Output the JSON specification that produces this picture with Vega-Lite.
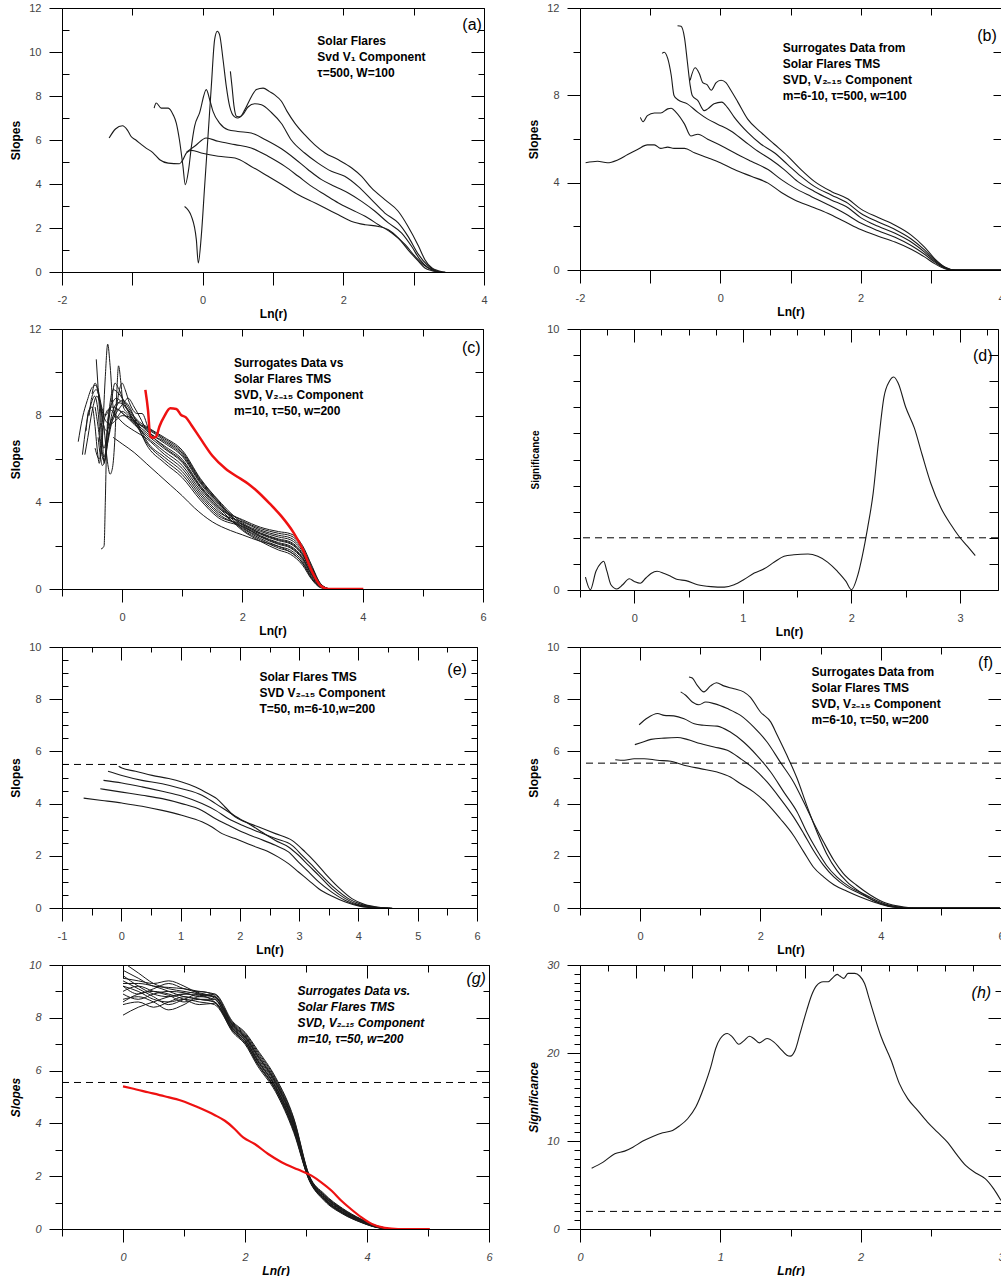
{
"$schema":"https://vega.github.io/schema/vega-lite/v6.json",
"background":"white",
"padding":{"left":9,"top":2,"right":0,"bottom":0},
"bounds":"flush",
"columns":2,
"spacing":{"row":57,"column":91},
"config":{
 "view":{"stroke":null},
 "font":"Liberation Sans",
 "axis":{"grid":false,"domainColor":"#000","domainWidth":1,"tickColor":"#000","tickWidth":1,"labelColor":"#444","labelFont":"Liberation Sans","labelFontSize":11,"labelOverlap":false,"labelFlush":false,"titleFont":"Liberation Sans","titleFontSize":12,"titleFontWeight":"bold","titleColor":"#000"},
 "axisBottom":{"labelPadding":9,"titlePadding":3},
 "axisLeft":{"labelPadding":8,"titlePadding":6},
 "text":{"font":"Liberation Sans","color":"#000"}
},
"datasets":{
"a":[
{"s":1,"x":-1.33,"y":6.09},{"s":1,"x":-1.24,"y":6.5},{"s":1,"x":-1.14,"y":6.65},{"s":1,"x":-1.07,"y":6.45},{"s":1,"x":-1.02,"y":6.17},{"s":1,"x":-0.95,"y":6.0},{"s":1,"x":-0.87,"y":5.79},{"s":1,"x":-0.8,"y":5.62},{"s":1,"x":-0.73,"y":5.48},{"s":1,"x":-0.67,"y":5.3},{"s":1,"x":-0.61,"y":5.1},{"s":1,"x":-0.49,"y":4.95},{"s":1,"x":-0.33,"y":4.92},{"s":1,"x":-0.28,"y":5.11},{"s":1,"x":-0.23,"y":5.41},{"s":1,"x":-0.16,"y":5.53},{"s":1,"x":-0.02,"y":5.41},{"s":1,"x":0.22,"y":5.26},{"s":1,"x":0.46,"y":5.18},{"s":1,"x":0.69,"y":4.8},{"s":1,"x":0.93,"y":4.35},{"s":1,"x":1.17,"y":3.89},{"s":1,"x":1.36,"y":3.51},{"s":1,"x":1.55,"y":3.21},{"s":1,"x":1.74,"y":2.91},{"s":1,"x":1.93,"y":2.6},{"s":1,"x":2.12,"y":2.3},{"s":1,"x":2.31,"y":2.15},{"s":1,"x":2.5,"y":2.07},{"s":1,"x":2.64,"y":1.92},{"s":1,"x":2.78,"y":1.55},{"s":1,"x":2.92,"y":1.01},{"s":1,"x":3.07,"y":0.48},{"s":1,"x":3.16,"y":0.18},{"s":1,"x":3.26,"y":0.06},{"s":1,"x":3.35,"y":0},
{"s":2,"x":-0.23,"y":5.45},{"s":2,"x":-0.1,"y":5.75},{"s":2,"x":0.05,"y":6.09},{"s":2,"x":0.22,"y":5.94},{"s":2,"x":0.46,"y":5.79},{"s":2,"x":0.69,"y":5.64},{"s":2,"x":0.93,"y":5.26},{"s":2,"x":1.17,"y":4.8},{"s":2,"x":1.36,"y":4.35},{"s":2,"x":1.55,"y":3.89},{"s":2,"x":1.74,"y":3.51},{"s":2,"x":1.93,"y":3.14},{"s":2,"x":2.12,"y":2.83},{"s":2,"x":2.31,"y":2.53},{"s":2,"x":2.5,"y":2.15},{"s":2,"x":2.69,"y":1.77},{"s":2,"x":2.88,"y":1.24},{"s":2,"x":3.02,"y":0.71},{"s":2,"x":3.14,"y":0.33},{"s":2,"x":3.26,"y":0.1},{"s":2,"x":3.37,"y":0},
{"s":3,"x":-0.69,"y":7.45},{"s":3,"x":-0.66,"y":7.68},{"s":3,"x":-0.59,"y":7.45},{"s":3,"x":-0.49,"y":7.45},{"s":3,"x":-0.42,"y":7.15},{"s":3,"x":-0.375,"y":6.77},{"s":3,"x":-0.33,"y":6.0},{"s":3,"x":-0.28,"y":4.8},{"s":3,"x":-0.247,"y":3.97},{"s":3,"x":-0.2,"y":4.65},{"s":3,"x":-0.16,"y":5.71},{"s":3,"x":-0.115,"y":6.62},{"s":3,"x":-0.044,"y":7.23},{"s":3,"x":0.052,"y":8.29},{"s":3,"x":0.1,"y":7.83},{"s":3,"x":0.147,"y":7.3},{"s":3,"x":0.24,"y":6.77},{"s":3,"x":0.36,"y":6.47},{"s":3,"x":0.5,"y":6.39},{"s":3,"x":0.69,"y":6.32},{"s":3,"x":0.9,"y":6.0},{"s":3,"x":1.12,"y":5.6},{"s":3,"x":1.31,"y":5.15},{"s":3,"x":1.5,"y":4.65},{"s":3,"x":1.69,"y":4.2},{"s":3,"x":1.88,"y":3.89},{"s":3,"x":2.07,"y":3.59},{"s":3,"x":2.26,"y":3.21},{"s":3,"x":2.45,"y":2.76},{"s":3,"x":2.64,"y":2.23},{"s":3,"x":2.83,"y":1.77},{"s":3,"x":2.97,"y":1.17},{"s":3,"x":3.09,"y":0.56},{"s":3,"x":3.21,"y":0.18},{"s":3,"x":3.33,"y":0.03},{"s":3,"x":3.4,"y":0},
{"s":4,"x":-0.257,"y":2.98},{"s":4,"x":-0.16,"y":2.53},{"s":4,"x":-0.09,"y":1.47},{"s":4,"x":-0.062,"y":0.41},{"s":4,"x":-0.02,"y":1.62},{"s":4,"x":0.028,"y":3.9},{"s":4,"x":0.076,"y":6.17},{"s":4,"x":0.123,"y":8.44},{"s":4,"x":0.17,"y":10.56},{"s":4,"x":0.208,"y":10.94},{"s":4,"x":0.24,"y":10.79},{"s":4,"x":0.29,"y":9.65},{"s":4,"x":0.336,"y":8.44},{"s":4,"x":0.384,"y":7.53},{"s":4,"x":0.455,"y":7.05},{"s":4,"x":0.5,"y":7.0},{"s":4,"x":0.57,"y":7.15},{"s":4,"x":0.645,"y":7.5},{"s":4,"x":0.74,"y":7.65},{"s":4,"x":0.835,"y":7.6},{"s":4,"x":0.977,"y":7.25},{"s":4,"x":1.12,"y":6.75},{"s":4,"x":1.26,"y":6.0},{"s":4,"x":1.45,"y":5.41},{"s":4,"x":1.64,"y":4.95},{"s":4,"x":1.83,"y":4.58},{"s":4,"x":2.02,"y":4.35},{"s":4,"x":2.21,"y":3.89},{"s":4,"x":2.4,"y":3.29},{"s":4,"x":2.59,"y":2.68},{"s":4,"x":2.78,"y":2.23},{"s":4,"x":2.92,"y":1.62},{"s":4,"x":3.07,"y":0.79},{"s":4,"x":3.19,"y":0.33},{"s":4,"x":3.3,"y":0.07},{"s":4,"x":3.4,"y":0},
{"s":5,"x":0.394,"y":9.12},{"s":5,"x":0.417,"y":8.44},{"s":5,"x":0.446,"y":7.53},{"s":5,"x":0.48,"y":7.08},{"s":5,"x":0.53,"y":7.05},{"s":5,"x":0.6,"y":7.38},{"s":5,"x":0.67,"y":7.83},{"s":5,"x":0.764,"y":8.29},{"s":5,"x":0.86,"y":8.36},{"s":5,"x":0.95,"y":8.2},{"s":5,"x":1.02,"y":8.06},{"s":5,"x":1.12,"y":7.76},{"s":5,"x":1.2,"y":7.3},{"s":5,"x":1.31,"y":6.77},{"s":5,"x":1.45,"y":6.24},{"s":5,"x":1.59,"y":5.79},{"s":5,"x":1.74,"y":5.41},{"s":5,"x":1.93,"y":5.1},{"s":5,"x":2.12,"y":4.73},{"s":5,"x":2.26,"y":4.35},{"s":5,"x":2.4,"y":3.82},{"s":5,"x":2.59,"y":3.29},{"s":5,"x":2.78,"y":2.76},{"s":5,"x":2.92,"y":2.07},{"s":5,"x":3.07,"y":1.17},{"s":5,"x":3.16,"y":0.56},{"s":5,"x":3.26,"y":0.18},{"s":5,"x":3.35,"y":0.06},{"s":5,"x":3.45,"y":0}
],
"b":[
{"s":1,"x":-1.92,"y":4.91},{"s":1,"x":-1.75,"y":4.98},{"s":1,"x":-1.61,"y":4.91},{"s":1,"x":-1.47,"y":5.03},{"s":1,"x":-1.32,"y":5.29},{"s":1,"x":-1.18,"y":5.52},{"s":1,"x":-1.04,"y":5.73},{"s":1,"x":-0.94,"y":5.73},{"s":1,"x":-0.85,"y":5.57},{"s":1,"x":-0.75,"y":5.63},{"s":1,"x":-0.66,"y":5.57},{"s":1,"x":-0.51,"y":5.57},{"s":1,"x":-0.37,"y":5.37},{"s":1,"x":-0.18,"y":5.14},{"s":1,"x":0.0,"y":4.91},{"s":1,"x":0.2,"y":4.6},{"s":1,"x":0.44,"y":4.29},{"s":1,"x":0.68,"y":3.98},{"s":1,"x":0.87,"y":3.55},{"s":1,"x":1.06,"y":3.21},{"s":1,"x":1.3,"y":2.9},{"s":1,"x":1.53,"y":2.6},{"s":1,"x":1.77,"y":2.22},{"s":1,"x":2.0,"y":1.85},{"s":1,"x":2.25,"y":1.55},{"s":1,"x":2.49,"y":1.28},{"s":1,"x":2.72,"y":0.95},{"s":1,"x":2.91,"y":0.6},{"s":1,"x":3.06,"y":0.28},{"s":1,"x":3.2,"y":0.06},{"s":1,"x":3.34,"y":0},{"s":1,"x":4.0,"y":0},
{"s":2,"x":-1.14,"y":6.99},{"s":2,"x":-1.1,"y":6.79},{"s":2,"x":-1.04,"y":7.07},{"s":2,"x":-0.94,"y":7.19},{"s":2,"x":-0.85,"y":7.19},{"s":2,"x":-0.75,"y":7.38},{"s":2,"x":-0.7,"y":7.41},{"s":2,"x":-0.63,"y":7.22},{"s":2,"x":-0.51,"y":6.68},{"s":2,"x":-0.42,"y":6.14},{"s":2,"x":-0.32,"y":6.22},{"s":2,"x":-0.18,"y":5.99},{"s":2,"x":0.02,"y":5.68},{"s":2,"x":0.2,"y":5.37},{"s":2,"x":0.44,"y":4.98},{"s":2,"x":0.68,"y":4.6},{"s":2,"x":0.87,"y":4.14},{"s":2,"x":1.06,"y":3.75},{"s":2,"x":1.3,"y":3.36},{"s":2,"x":1.53,"y":3.0},{"s":2,"x":1.77,"y":2.6},{"s":2,"x":2.0,"y":2.15},{"s":2,"x":2.25,"y":1.8},{"s":2,"x":2.49,"y":1.5},{"s":2,"x":2.72,"y":1.12},{"s":2,"x":2.91,"y":0.72},{"s":2,"x":3.06,"y":0.35},{"s":2,"x":3.2,"y":0.08},{"s":2,"x":3.34,"y":0},{"s":2,"x":4.0,"y":0},
{"s":3,"x":-0.83,"y":9.92},{"s":3,"x":-0.8,"y":9.97},{"s":3,"x":-0.75,"y":9.69},{"s":3,"x":-0.7,"y":8.92},{"s":3,"x":-0.66,"y":7.99},{"s":3,"x":-0.61,"y":7.81},{"s":3,"x":-0.47,"y":7.61},{"s":3,"x":-0.32,"y":7.22},{"s":3,"x":-0.18,"y":6.91},{"s":3,"x":-0.04,"y":6.68},{"s":3,"x":0.15,"y":6.37},{"s":3,"x":0.34,"y":5.91},{"s":3,"x":0.53,"y":5.45},{"s":3,"x":0.72,"y":5.06},{"s":3,"x":0.91,"y":4.6},{"s":3,"x":1.1,"y":4.06},{"s":3,"x":1.34,"y":3.6},{"s":3,"x":1.58,"y":3.21},{"s":3,"x":1.82,"y":2.85},{"s":3,"x":2.0,"y":2.4},{"s":3,"x":2.25,"y":2.0},{"s":3,"x":2.49,"y":1.68},{"s":3,"x":2.72,"y":1.28},{"s":3,"x":2.91,"y":0.82},{"s":3,"x":3.06,"y":0.4},{"s":3,"x":3.2,"y":0.1},{"s":3,"x":3.34,"y":0},{"s":3,"x":4.0,"y":0},
{"s":4,"x":-0.61,"y":11.19},{"s":4,"x":-0.56,"y":11.16},{"s":4,"x":-0.51,"y":10.62},{"s":4,"x":-0.47,"y":9.54},{"s":4,"x":-0.43,"y":8.46},{"s":4,"x":-0.4,"y":7.99},{"s":4,"x":-0.32,"y":7.76},{"s":4,"x":-0.23,"y":7.3},{"s":4,"x":-0.18,"y":7.38},{"s":4,"x":-0.09,"y":7.61},{"s":4,"x":0.02,"y":7.69},{"s":4,"x":0.1,"y":7.45},{"s":4,"x":0.2,"y":6.99},{"s":4,"x":0.39,"y":6.3},{"s":4,"x":0.58,"y":5.76},{"s":4,"x":0.77,"y":5.37},{"s":4,"x":0.96,"y":4.83},{"s":4,"x":1.15,"y":4.29},{"s":4,"x":1.34,"y":3.83},{"s":4,"x":1.58,"y":3.44},{"s":4,"x":1.82,"y":3.05},{"s":4,"x":2.0,"y":2.6},{"s":4,"x":2.25,"y":2.2},{"s":4,"x":2.49,"y":1.85},{"s":4,"x":2.72,"y":1.42},{"s":4,"x":2.91,"y":0.92},{"s":4,"x":3.06,"y":0.45},{"s":4,"x":3.2,"y":0.12},{"s":4,"x":3.34,"y":0},{"s":4,"x":4.0,"y":0},
{"s":5,"x":-0.43,"y":8.69},{"s":5,"x":-0.36,"y":9.26},{"s":5,"x":-0.3,"y":9.0},{"s":5,"x":-0.25,"y":8.58},{"s":5,"x":-0.19,"y":8.49},{"s":5,"x":-0.13,"y":8.23},{"s":5,"x":-0.06,"y":8.58},{"s":5,"x":0.01,"y":8.69},{"s":5,"x":0.08,"y":8.58},{"s":5,"x":0.15,"y":8.23},{"s":5,"x":0.25,"y":7.69},{"s":5,"x":0.39,"y":6.91},{"s":5,"x":0.58,"y":6.3},{"s":5,"x":0.77,"y":5.76},{"s":5,"x":0.96,"y":5.22},{"s":5,"x":1.15,"y":4.6},{"s":5,"x":1.34,"y":4.06},{"s":5,"x":1.58,"y":3.6},{"s":5,"x":1.82,"y":3.25},{"s":5,"x":2.0,"y":2.8},{"s":5,"x":2.25,"y":2.4},{"s":5,"x":2.49,"y":2.05},{"s":5,"x":2.72,"y":1.6},{"s":5,"x":2.91,"y":1.05},{"s":5,"x":3.06,"y":0.5},{"s":5,"x":3.2,"y":0.14},{"s":5,"x":3.34,"y":0},{"s":5,"x":4.0,"y":0}
],
"cb":[
{"s":1,"x":-0.73,"y":6.8},{"s":1,"x":-0.66,"y":7.9},{"s":1,"x":-0.58,"y":8.7},{"s":1,"x":-0.5,"y":9.3},{"s":1,"x":-0.44,"y":9.4},{"s":1,"x":-0.38,"y":8.8},{"s":1,"x":-0.32,"y":7.7},{"s":1,"x":-0.26,"y":7.3},{"s":1,"x":-0.18,"y":7.8},{"s":1,"x":-0.08,"y":8.3},{"s":1,"x":0.05,"y":8.0},{"s":1,"x":0.2,"y":7.7},{"s":1,"x":0.4,"y":7.41},{"s":1,"x":0.7,"y":6.87},{"s":1,"x":1.0,"y":6.26},{"s":1,"x":1.3,"y":4.99},{"s":1,"x":1.6,"y":4.01},{"s":1,"x":2.0,"y":2.95},{"s":1,"x":2.3,"y":2.53},{"s":1,"x":2.6,"y":2.23},{"s":1,"x":2.8,"y":2.08},{"s":1,"x":3.0,"y":1.55},{"s":1,"x":3.15,"y":0.78},{"s":1,"x":3.3,"y":0.16},{"s":1,"x":3.45,"y":0},
{"s":2,"x":-0.66,"y":6.2},{"s":2,"x":-0.6,"y":7.5},{"s":2,"x":-0.52,"y":8.5},{"s":2,"x":-0.46,"y":8.9},{"s":2,"x":-0.4,"y":8.2},{"s":2,"x":-0.36,"y":6.8},{"s":2,"x":-0.3,"y":6.1},{"s":2,"x":-0.24,"y":6.9},{"s":2,"x":-0.16,"y":8.2},{"s":2,"x":-0.06,"y":8.6},{"s":2,"x":0.06,"y":8.4},{"s":2,"x":0.2,"y":7.9},{"s":2,"x":0.4,"y":7.32},{"s":2,"x":0.7,"y":6.74},{"s":2,"x":1.0,"y":6.12},{"s":2,"x":1.3,"y":4.88},{"s":2,"x":1.6,"y":3.92},{"s":2,"x":2.0,"y":3.15},{"s":2,"x":2.3,"y":2.79},{"s":2,"x":2.6,"y":2.57},{"s":2,"x":2.8,"y":2.46},{"s":2,"x":3.0,"y":1.91},{"s":2,"x":3.15,"y":1.04},{"s":2,"x":3.3,"y":0.23},{"s":2,"x":3.45,"y":0},
{"s":3,"x":-0.55,"y":8.0},{"s":3,"x":-0.5,"y":8.9},{"s":3,"x":-0.43,"y":9.2},{"s":3,"x":-0.37,"y":8.6},{"s":3,"x":-0.33,"y":7.0},{"s":3,"x":-0.3,"y":5.8},{"s":3,"x":-0.26,"y":6.8},{"s":3,"x":-0.2,"y":8.6},{"s":3,"x":-0.15,"y":9.2},{"s":3,"x":-0.05,"y":9.0},{"s":3,"x":0.05,"y":8.6},{"s":3,"x":0.25,"y":7.8},{"s":3,"x":0.4,"y":7.5},{"s":3,"x":0.7,"y":7.0},{"s":3,"x":1.0,"y":6.4},{"s":3,"x":1.3,"y":5.1},{"s":3,"x":1.6,"y":4.1},{"s":3,"x":2.0,"y":3.05},{"s":3,"x":2.3,"y":2.66},{"s":3,"x":2.6,"y":2.4},{"s":3,"x":2.8,"y":2.27},{"s":3,"x":3.0,"y":1.73},{"s":3,"x":3.15,"y":0.91},{"s":3,"x":3.3,"y":0.19},{"s":3,"x":3.45,"y":0},
{"s":4,"x":-0.45,"y":6.5},{"s":4,"x":-0.38,"y":6.0},{"s":4,"x":-0.32,"y":7.6},{"s":4,"x":-0.28,"y":9.8},{"s":4,"x":-0.24,"y":11.3},{"s":4,"x":-0.2,"y":10.3},{"s":4,"x":-0.15,"y":8.4},{"s":4,"x":-0.1,"y":7.9},{"s":4,"x":0.0,"y":8.2},{"s":4,"x":0.1,"y":8.0},{"s":4,"x":0.25,"y":7.5},{"s":4,"x":0.4,"y":7.14},{"s":4,"x":0.7,"y":6.48},{"s":4,"x":1.0,"y":5.84},{"s":4,"x":1.3,"y":4.66},{"s":4,"x":1.6,"y":3.74},{"s":4,"x":2.0,"y":3.2},{"s":4,"x":2.3,"y":2.85},{"s":4,"x":2.6,"y":2.65},{"s":4,"x":2.8,"y":2.55},{"s":4,"x":3.0,"y":2.0},{"s":4,"x":3.15,"y":1.1},{"s":4,"x":3.3,"y":0.25},{"s":4,"x":3.45,"y":0},
{"s":5,"x":-0.43,"y":10.6},{"s":5,"x":-0.4,"y":9.3},{"s":5,"x":-0.37,"y":8.0},{"s":5,"x":-0.34,"y":6.9},{"s":5,"x":-0.3,"y":6.5},{"s":5,"x":-0.25,"y":7.2},{"s":5,"x":-0.18,"y":8.6},{"s":5,"x":-0.12,"y":9.5},{"s":5,"x":-0.05,"y":9.2},{"s":5,"x":0.05,"y":8.5},{"s":5,"x":0.2,"y":7.8},{"s":5,"x":0.4,"y":7.46},{"s":5,"x":0.7,"y":6.94},{"s":5,"x":1.0,"y":6.33},{"s":5,"x":1.3,"y":5.05},{"s":5,"x":1.6,"y":4.06},{"s":5,"x":2.0,"y":2.85},{"s":5,"x":2.3,"y":2.4},{"s":5,"x":2.6,"y":2.06},{"s":5,"x":2.8,"y":1.89},{"s":5,"x":3.0,"y":1.37},{"s":5,"x":3.15,"y":0.65},{"s":5,"x":3.3,"y":0.12},{"s":5,"x":3.45,"y":0},
{"s":6,"x":-0.35,"y":8.3},{"s":6,"x":-0.3,"y":7.4},{"s":6,"x":-0.25,"y":6.0},{"s":6,"x":-0.2,"y":5.3},{"s":6,"x":-0.16,"y":5.6},{"s":6,"x":-0.12,"y":7.0},{"s":6,"x":-0.09,"y":9.0},{"s":6,"x":-0.06,"y":10.3},{"s":6,"x":-0.02,"y":9.5},{"s":6,"x":0.02,"y":8.4},{"s":6,"x":0.1,"y":8.1},{"s":6,"x":0.25,"y":7.6},{"s":6,"x":0.4,"y":7.23},{"s":6,"x":0.7,"y":6.61},{"s":6,"x":1.0,"y":5.98},{"s":6,"x":1.3,"y":4.77},{"s":6,"x":1.6,"y":3.83},{"s":6,"x":2.0,"y":3.0},{"s":6,"x":2.3,"y":2.59},{"s":6,"x":2.6,"y":2.31},{"s":6,"x":2.8,"y":2.17},{"s":6,"x":3.0,"y":1.64},{"s":6,"x":3.15,"y":0.84},{"s":6,"x":3.3,"y":0.17},{"s":6,"x":3.45,"y":0},
{"s":7,"x":-0.35,"y":1.85},{"s":7,"x":-0.32,"y":1.9},{"s":7,"x":-0.3,"y":2.0},{"s":7,"x":-0.28,"y":4.0},{"s":7,"x":-0.26,"y":6.5},{"s":7,"x":-0.24,"y":7.8},{"s":7,"x":-0.18,"y":8.4},{"s":7,"x":-0.08,"y":8.3},{"s":7,"x":0.05,"y":8.0},{"s":7,"x":0.2,"y":7.6},{"s":7,"x":0.4,"y":7.05},{"s":7,"x":0.7,"y":6.35},{"s":7,"x":1.0,"y":5.7},{"s":7,"x":1.3,"y":4.55},{"s":7,"x":1.6,"y":3.65},{"s":7,"x":2.0,"y":2.8},{"s":7,"x":2.3,"y":2.33},{"s":7,"x":2.6,"y":1.97},{"s":7,"x":2.8,"y":1.79},{"s":7,"x":3.0,"y":1.28},{"s":7,"x":3.15,"y":0.58},{"s":7,"x":3.3,"y":0.1},{"s":7,"x":3.45,"y":0},
{"s":8,"x":-0.6,"y":7.3},{"s":8,"x":-0.56,"y":8.2},{"s":8,"x":-0.5,"y":8.4},{"s":8,"x":-0.45,"y":7.5},{"s":8,"x":-0.42,"y":6.6},{"s":8,"x":-0.38,"y":5.8},{"s":8,"x":-0.35,"y":6.3},{"s":8,"x":-0.3,"y":7.8},{"s":8,"x":-0.22,"y":8.3},{"s":8,"x":-0.1,"y":8.0},{"s":8,"x":0.0,"y":7.7},{"s":8,"x":0.2,"y":7.3},{"s":8,"x":0.4,"y":6.96},{"s":8,"x":0.7,"y":6.22},{"s":8,"x":1.0,"y":5.56},{"s":8,"x":1.3,"y":4.44},{"s":8,"x":1.6,"y":3.56},{"s":8,"x":2.0,"y":3.1},{"s":8,"x":2.3,"y":2.72},{"s":8,"x":2.6,"y":2.48},{"s":8,"x":2.8,"y":2.36},{"s":8,"x":3.0,"y":1.82},{"s":8,"x":3.15,"y":0.97},{"s":8,"x":3.3,"y":0.21},{"s":8,"x":3.45,"y":0},
{"s":9,"x":-0.62,"y":6.2},{"s":9,"x":-0.57,"y":7.0},{"s":9,"x":-0.5,"y":8.2},{"s":9,"x":-0.42,"y":8.9},{"s":9,"x":-0.36,"y":8.5},{"s":9,"x":-0.3,"y":7.9},{"s":9,"x":-0.2,"y":7.6},{"s":9,"x":-0.1,"y":7.8},{"s":9,"x":0.0,"y":8.0},{"s":9,"x":0.15,"y":7.9},{"s":9,"x":0.3,"y":7.4},{"s":9,"x":0.4,"y":6.87},{"s":9,"x":0.7,"y":6.09},{"s":9,"x":1.0,"y":5.42},{"s":9,"x":1.3,"y":4.33},{"s":9,"x":1.6,"y":3.47},{"s":9,"x":2.0,"y":2.9},{"s":9,"x":2.3,"y":2.46},{"s":9,"x":2.6,"y":2.14},{"s":9,"x":2.8,"y":1.98},{"s":9,"x":3.0,"y":1.46},{"s":9,"x":3.15,"y":0.71},{"s":9,"x":3.3,"y":0.14},{"s":9,"x":3.45,"y":0},
{"s":10,"x":-0.4,"y":7.0},{"s":10,"x":-0.36,"y":6.1},{"s":10,"x":-0.33,"y":5.7},{"s":10,"x":-0.28,"y":6.0},{"s":10,"x":-0.22,"y":7.2},{"s":10,"x":-0.12,"y":8.0},{"s":10,"x":0.0,"y":8.5},{"s":10,"x":0.1,"y":8.8},{"s":10,"x":0.2,"y":8.4},{"s":10,"x":0.3,"y":7.9},{"s":10,"x":0.4,"y":7.37},{"s":10,"x":0.7,"y":6.81},{"s":10,"x":1.0,"y":6.19},{"s":10,"x":1.3,"y":4.94},{"s":10,"x":1.6,"y":3.97},{"s":10,"x":2.0,"y":2.75},{"s":10,"x":2.3,"y":2.27},{"s":10,"x":2.6,"y":1.89},{"s":10,"x":2.8,"y":1.7},{"s":10,"x":3.0,"y":1.19},{"s":10,"x":3.15,"y":0.52},{"s":10,"x":3.3,"y":0.08},{"s":10,"x":3.45,"y":0},
{"s":11,"x":-0.15,"y":7.0},{"s":11,"x":-0.05,"y":6.8},{"s":11,"x":0.0,"y":6.7},{"s":11,"x":0.2,"y":6.3},{"s":11,"x":0.4,"y":5.8},{"s":11,"x":0.6,"y":5.3},{"s":11,"x":0.8,"y":4.8},{"s":11,"x":1.0,"y":4.3},{"s":11,"x":1.2,"y":3.75},{"s":11,"x":1.5,"y":3.1},{"s":11,"x":1.8,"y":2.7},{"s":11,"x":2.0,"y":2.5},{"s":11,"x":2.3,"y":2.2},{"s":11,"x":2.5,"y":2.05},{"s":11,"x":2.7,"y":1.85},{"s":11,"x":2.9,"y":1.5},{"s":11,"x":3.0,"y":1.2},{"s":11,"x":3.15,"y":0.5},{"s":11,"x":3.3,"y":0.08},{"s":11,"x":3.42,"y":0},
{"s":12,"x":-0.5,"y":9.0},{"s":12,"x":-0.45,"y":9.5},{"s":12,"x":-0.4,"y":9.2},{"s":12,"x":-0.34,"y":8.4},{"s":12,"x":-0.28,"y":8.0},{"s":12,"x":-0.2,"y":8.4},{"s":12,"x":-0.1,"y":8.8},{"s":12,"x":0.0,"y":8.6},{"s":12,"x":0.1,"y":8.2},{"s":12,"x":0.25,"y":7.5},{"s":12,"x":0.4,"y":6.78},{"s":12,"x":0.7,"y":5.96},{"s":12,"x":1.0,"y":5.28},{"s":12,"x":1.3,"y":4.22},{"s":12,"x":1.6,"y":3.38},{"s":12,"x":2.0,"y":2.98},{"s":12,"x":2.3,"y":2.56},{"s":12,"x":2.6,"y":2.27},{"s":12,"x":2.8,"y":2.12},{"s":12,"x":3.0,"y":1.6},{"s":12,"x":3.15,"y":0.81},{"s":12,"x":3.3,"y":0.16},{"s":12,"x":3.45,"y":0},
{"s":13,"x":-0.1,"y":8.3},{"s":13,"x":0.0,"y":9.5},{"s":13,"x":0.05,"y":9.2},{"s":13,"x":0.12,"y":8.6},{"s":13,"x":0.25,"y":8.1},{"s":13,"x":0.33,"y":8.1},{"s":13,"x":0.45,"y":7.3},{"s":13,"x":0.7,"y":6.55},{"s":13,"x":1.0,"y":5.91},{"s":13,"x":1.3,"y":4.72},{"s":13,"x":1.6,"y":3.79},{"s":13,"x":2.0,"y":2.7},{"s":13,"x":2.3,"y":2.2},{"s":13,"x":2.6,"y":1.8},{"s":13,"x":2.8,"y":1.6},{"s":13,"x":3.0,"y":1.1},{"s":13,"x":3.15,"y":0.45},{"s":13,"x":3.3,"y":0.06},{"s":13,"x":3.45,"y":0},
{"s":14,"x":-0.45,"y":8.4},{"s":14,"x":-0.4,"y":7.5},{"s":14,"x":-0.35,"y":6.4},{"s":14,"x":-0.3,"y":5.9},{"s":14,"x":-0.25,"y":6.6},{"s":14,"x":-0.18,"y":7.6},{"s":14,"x":-0.1,"y":8.4},{"s":14,"x":0.0,"y":8.7},{"s":14,"x":0.1,"y":8.5},{"s":14,"x":0.25,"y":7.6},{"s":14,"x":0.4,"y":6.69},{"s":14,"x":0.7,"y":5.83},{"s":14,"x":1.0,"y":5.14},{"s":14,"x":1.3,"y":4.11},{"s":14,"x":1.6,"y":3.29},{"s":14,"x":2.0,"y":2.88},{"s":14,"x":2.3,"y":2.43},{"s":14,"x":2.6,"y":2.1},{"s":14,"x":2.8,"y":1.93},{"s":14,"x":3.0,"y":1.42},{"s":14,"x":3.15,"y":0.68},{"s":14,"x":3.3,"y":0.13},{"s":14,"x":3.45,"y":0}
],
"cr":[
{"x":0.386,"y":9.19},{"x":0.43,"y":8.26},{"x":0.468,"y":7.04},{"x":0.51,"y":6.98},{"x":0.567,"y":7.04},{"x":0.62,"y":7.5},{"x":0.705,"y":7.99},{"x":0.8,"y":8.34},{"x":0.9,"y":8.31},{"x":0.98,"y":8.03},{"x":1.06,"y":7.92},{"x":1.15,"y":7.57},{"x":1.3,"y":6.95},{"x":1.5,"y":6.15},{"x":1.72,"y":5.55},{"x":1.95,"y":5.12},{"x":2.1,"y":4.85},{"x":2.25,"y":4.5},{"x":2.45,"y":3.95},{"x":2.65,"y":3.35},{"x":2.85,"y":2.6},{"x":3.0,"y":1.85},{"x":3.15,"y":0.85},{"x":3.3,"y":0.15},{"x":3.43,"y":0},{"x":4.01,"y":0}
],
"d":[
{"x":-0.45,"y":0.49},{"x":-0.405,"y":0.01},{"x":-0.353,"y":0.72},{"x":-0.307,"y":1.03},{"x":-0.282,"y":1.1},{"x":-0.252,"y":0.72},{"x":-0.215,"y":0.2},{"x":-0.16,"y":0.04},{"x":-0.107,"y":0.2},{"x":-0.046,"y":0.43},{"x":0,"y":0.33},{"x":0.055,"y":0.26},{"x":0.107,"y":0.46},{"x":0.154,"y":0.63},{"x":0.21,"y":0.72},{"x":0.276,"y":0.63},{"x":0.338,"y":0.52},{"x":0.4,"y":0.4},{"x":0.476,"y":0.36},{"x":0.583,"y":0.2},{"x":0.706,"y":0.13},{"x":0.83,"y":0.11},{"x":0.92,"y":0.2},{"x":1.01,"y":0.4},{"x":1.105,"y":0.65},{"x":1.2,"y":0.82},{"x":1.29,"y":1.07},{"x":1.38,"y":1.29},{"x":1.47,"y":1.35},{"x":1.6,"y":1.38},{"x":1.69,"y":1.29},{"x":1.78,"y":1.07},{"x":1.87,"y":0.72},{"x":1.95,"y":0.33},{"x":2.0,"y":0.01},{"x":2.06,"y":0.59},{"x":2.1,"y":1.3},{"x":2.15,"y":2.4},{"x":2.2,"y":3.7},{"x":2.25,"y":5.7},{"x":2.3,"y":7.4},{"x":2.35,"y":8.0},{"x":2.39,"y":8.16},{"x":2.43,"y":7.93},{"x":2.5,"y":7.0},{"x":2.58,"y":6.2},{"x":2.65,"y":5.2},{"x":2.73,"y":4.1},{"x":2.825,"y":3.14},{"x":2.917,"y":2.5},{"x":2.99,"y":2.06},{"x":3.07,"y":1.67},{"x":3.14,"y":1.32}
],
"e":[
{"s":1,"x":-0.635,"y":4.21},{"s":1,"x":-0.325,"y":4.12},{"s":1,"x":0.01,"y":4.02},{"s":1,"x":0.35,"y":3.9},{"s":1,"x":0.69,"y":3.74},{"s":1,"x":1.02,"y":3.55},{"s":1,"x":1.36,"y":3.3},{"s":1,"x":1.53,"y":3.1},{"s":1,"x":1.7,"y":2.85},{"s":1,"x":1.92,"y":2.66},{"s":1,"x":2.2,"y":2.4},{"s":1,"x":2.49,"y":2.15},{"s":1,"x":2.65,"y":1.95},{"s":1,"x":2.82,"y":1.7},{"s":1,"x":2.99,"y":1.38},{"s":1,"x":3.16,"y":1.06},{"s":1,"x":3.33,"y":0.74},{"s":1,"x":3.55,"y":0.46},{"s":1,"x":3.78,"y":0.23},{"s":1,"x":4.0,"y":0.08},{"s":1,"x":4.23,"y":0.01},{"s":1,"x":4.4,"y":0},
{"s":2,"x":-0.354,"y":4.57},{"s":2,"x":0.01,"y":4.44},{"s":2,"x":0.35,"y":4.32},{"s":2,"x":0.69,"y":4.19},{"s":2,"x":1.02,"y":4.0},{"s":2,"x":1.36,"y":3.74},{"s":2,"x":1.59,"y":3.42},{"s":2,"x":1.81,"y":3.17},{"s":2,"x":2.04,"y":2.91},{"s":2,"x":2.32,"y":2.66},{"s":2,"x":2.6,"y":2.4},{"s":2,"x":2.82,"y":2.15},{"s":2,"x":2.99,"y":1.76},{"s":2,"x":3.16,"y":1.38},{"s":2,"x":3.33,"y":1.0},{"s":2,"x":3.55,"y":0.61},{"s":2,"x":3.78,"y":0.29},{"s":2,"x":4.0,"y":0.1},{"s":2,"x":4.23,"y":0.03},{"s":2,"x":4.45,"y":0},
{"s":3,"x":-0.3,"y":4.89},{"s":3,"x":0.01,"y":4.79},{"s":3,"x":0.35,"y":4.64},{"s":3,"x":0.69,"y":4.47},{"s":3,"x":1.02,"y":4.29},{"s":3,"x":1.36,"y":4.0},{"s":3,"x":1.59,"y":3.74},{"s":3,"x":1.81,"y":3.42},{"s":3,"x":2.04,"y":3.17},{"s":3,"x":2.32,"y":2.91},{"s":3,"x":2.6,"y":2.66},{"s":3,"x":2.88,"y":2.4},{"s":3,"x":3.05,"y":2.02},{"s":3,"x":3.22,"y":1.63},{"s":3,"x":3.38,"y":1.25},{"s":3,"x":3.61,"y":0.74},{"s":3,"x":3.83,"y":0.36},{"s":3,"x":4.06,"y":0.13},{"s":3,"x":4.28,"y":0.03},{"s":3,"x":4.5,"y":0},
{"s":4,"x":-0.224,"y":5.24},{"s":4,"x":0.01,"y":5.08},{"s":4,"x":0.35,"y":4.89},{"s":4,"x":0.69,"y":4.76},{"s":4,"x":1.02,"y":4.57},{"s":4,"x":1.36,"y":4.32},{"s":4,"x":1.59,"y":4.0},{"s":4,"x":1.81,"y":3.68},{"s":4,"x":2.04,"y":3.36},{"s":4,"x":2.32,"y":3.1},{"s":4,"x":2.6,"y":2.85},{"s":4,"x":2.88,"y":2.59},{"s":4,"x":3.1,"y":2.15},{"s":4,"x":3.27,"y":1.76},{"s":4,"x":3.44,"y":1.32},{"s":4,"x":3.66,"y":0.8},{"s":4,"x":3.89,"y":0.36},{"s":4,"x":4.11,"y":0.13},{"s":4,"x":4.34,"y":0.03},{"s":4,"x":4.54,"y":0},
{"s":5,"x":-0.044,"y":5.43},{"s":5,"x":0.01,"y":5.36},{"s":5,"x":0.24,"y":5.24},{"s":5,"x":0.52,"y":5.08},{"s":5,"x":0.8,"y":4.96},{"s":5,"x":1.02,"y":4.83},{"s":5,"x":1.25,"y":4.64},{"s":5,"x":1.47,"y":4.38},{"s":5,"x":1.61,"y":4.19},{"s":5,"x":1.75,"y":3.87},{"s":5,"x":1.92,"y":3.49},{"s":5,"x":2.15,"y":3.23},{"s":5,"x":2.37,"y":2.91},{"s":5,"x":2.6,"y":2.59},{"s":5,"x":2.82,"y":2.34},{"s":5,"x":2.99,"y":2.02},{"s":5,"x":3.16,"y":1.63},{"s":5,"x":3.33,"y":1.25},{"s":5,"x":3.55,"y":0.74},{"s":5,"x":3.78,"y":0.36},{"s":5,"x":4.0,"y":0.13},{"s":5,"x":4.23,"y":0.04},{"s":5,"x":4.57,"y":0}
],
"f":[
{"s":1,"x":-0.414,"y":5.68},{"s":1,"x":-0.265,"y":5.66},{"s":1,"x":-0.1,"y":5.72},{"s":1,"x":0.066,"y":5.72},{"s":1,"x":0.287,"y":5.66},{"s":1,"x":0.51,"y":5.62},{"s":1,"x":0.73,"y":5.47},{"s":1,"x":1.0,"y":5.34},{"s":1,"x":1.28,"y":5.21},{"s":1,"x":1.5,"y":5.02},{"s":1,"x":1.67,"y":4.76},{"s":1,"x":1.89,"y":4.44},{"s":1,"x":2.11,"y":4.0},{"s":1,"x":2.33,"y":3.42},{"s":1,"x":2.55,"y":2.78},{"s":1,"x":2.72,"y":2.15},{"s":1,"x":2.88,"y":1.57},{"s":1,"x":3.05,"y":1.19},{"s":1,"x":3.22,"y":0.89},{"s":1,"x":3.44,"y":0.64},{"s":1,"x":3.66,"y":0.42},{"s":1,"x":3.88,"y":0.23},{"s":1,"x":4.1,"y":0.08},{"s":1,"x":4.32,"y":0.01},{"s":1,"x":4.54,"y":0},{"s":1,"x":5.98,"y":0},
{"s":2,"x":-0.088,"y":6.26},{"s":2,"x":0.01,"y":6.33},{"s":2,"x":0.18,"y":6.46},{"s":2,"x":0.4,"y":6.51},{"s":2,"x":0.62,"y":6.53},{"s":2,"x":0.78,"y":6.46},{"s":2,"x":1.0,"y":6.3},{"s":2,"x":1.23,"y":6.17},{"s":2,"x":1.45,"y":6.04},{"s":2,"x":1.67,"y":5.72},{"s":2,"x":1.89,"y":5.34},{"s":2,"x":2.11,"y":4.83},{"s":2,"x":2.33,"y":4.19},{"s":2,"x":2.55,"y":3.49},{"s":2,"x":2.72,"y":2.85},{"s":2,"x":2.88,"y":2.21},{"s":2,"x":3.05,"y":1.63},{"s":2,"x":3.22,"y":1.19},{"s":2,"x":3.44,"y":0.8},{"s":2,"x":3.66,"y":0.55},{"s":2,"x":3.88,"y":0.29},{"s":2,"x":4.1,"y":0.1},{"s":2,"x":4.32,"y":0.03},{"s":2,"x":4.54,"y":0},{"s":2,"x":5.98,"y":0},
{"s":3,"x":-0.017,"y":7.02},{"s":3,"x":0.12,"y":7.28},{"s":3,"x":0.29,"y":7.45},{"s":3,"x":0.4,"y":7.38},{"s":3,"x":0.56,"y":7.36},{"s":3,"x":0.73,"y":7.25},{"s":3,"x":0.9,"y":7.06},{"s":3,"x":1.06,"y":7.0},{"s":3,"x":1.28,"y":6.97},{"s":3,"x":1.5,"y":6.74},{"s":3,"x":1.72,"y":6.36},{"s":3,"x":1.94,"y":5.85},{"s":3,"x":2.17,"y":5.21},{"s":3,"x":2.39,"y":4.44},{"s":3,"x":2.61,"y":3.68},{"s":3,"x":2.77,"y":2.91},{"s":3,"x":2.94,"y":2.21},{"s":3,"x":3.1,"y":1.63},{"s":3,"x":3.27,"y":1.19},{"s":3,"x":3.49,"y":0.8},{"s":3,"x":3.71,"y":0.55},{"s":3,"x":3.93,"y":0.29},{"s":3,"x":4.15,"y":0.1},{"s":3,"x":4.38,"y":0.01},{"s":3,"x":4.6,"y":0},{"s":3,"x":5.98,"y":0},
{"s":4,"x":0.674,"y":8.28},{"s":4,"x":0.757,"y":8.15},{"s":4,"x":0.867,"y":7.89},{"s":4,"x":0.978,"y":7.79},{"s":4,"x":1.09,"y":7.89},{"s":4,"x":1.23,"y":7.83},{"s":4,"x":1.45,"y":7.64},{"s":4,"x":1.67,"y":7.38},{"s":4,"x":1.89,"y":6.93},{"s":4,"x":2.11,"y":6.36},{"s":4,"x":2.33,"y":5.59},{"s":4,"x":2.55,"y":4.83},{"s":4,"x":2.72,"y":4.06},{"s":4,"x":2.88,"y":3.29},{"s":4,"x":3.05,"y":2.53},{"s":4,"x":3.22,"y":1.83},{"s":4,"x":3.38,"y":1.32},{"s":4,"x":3.6,"y":0.87},{"s":4,"x":3.82,"y":0.51},{"s":4,"x":4.04,"y":0.23},{"s":4,"x":4.27,"y":0.08},{"s":4,"x":4.49,"y":0.01},{"s":4,"x":4.7,"y":0},{"s":4,"x":5.98,"y":0},
{"s":5,"x":0.812,"y":8.85},{"s":5,"x":0.867,"y":8.81},{"s":5,"x":0.95,"y":8.53},{"s":5,"x":1.06,"y":8.28},{"s":5,"x":1.17,"y":8.51},{"s":5,"x":1.27,"y":8.63},{"s":5,"x":1.39,"y":8.51},{"s":5,"x":1.56,"y":8.4},{"s":5,"x":1.72,"y":8.28},{"s":5,"x":1.83,"y":8.08},{"s":5,"x":2.0,"y":7.51},{"s":5,"x":2.17,"y":7.13},{"s":5,"x":2.28,"y":6.62},{"s":5,"x":2.44,"y":5.85},{"s":5,"x":2.61,"y":4.96},{"s":5,"x":2.77,"y":3.93},{"s":5,"x":2.94,"y":2.91},{"s":5,"x":3.1,"y":2.08},{"s":5,"x":3.27,"y":1.44},{"s":5,"x":3.44,"y":1.0},{"s":5,"x":3.66,"y":0.61},{"s":5,"x":3.88,"y":0.29},{"s":5,"x":4.1,"y":0.1},{"s":5,"x":4.32,"y":0.03},{"s":5,"x":4.54,"y":0},{"s":5,"x":5.98,"y":0}
],
"gb":[
{"s":1,"x":0,"y":10.1},{"s":1,"x":0.25,"y":9.7},{"s":1,"x":0.5,"y":9.3},{"s":1,"x":0.75,"y":9.1},{"s":1,"x":1.0,"y":9.0},{"s":1,"x":1.25,"y":8.9},{"s":1,"x":1.5,"y":8.8},{"s":1,"x":1.8,"y":7.73},{"s":1,"x":2.0,"y":7.32},{"s":1,"x":2.2,"y":6.62},{"s":1,"x":2.5,"y":5.59},{"s":1,"x":2.8,"y":4.04},{"s":1,"x":3.05,"y":1.99},{"s":1,"x":3.3,"y":1.25},{"s":1,"x":3.6,"y":0.72},{"s":1,"x":3.9,"y":0.34},{"s":1,"x":4.15,"y":0.11},{"s":1,"x":4.4,"y":0},
{"s":2,"x":0,"y":9.8},{"s":2,"x":0.25,"y":9.5},{"s":2,"x":0.5,"y":9.2},{"s":2,"x":0.75,"y":9.15},{"s":2,"x":1.0,"y":9.1},{"s":2,"x":1.25,"y":9.0},{"s":2,"x":1.5,"y":8.9},{"s":2,"x":1.8,"y":7.81},{"s":2,"x":2.0,"y":7.41},{"s":2,"x":2.2,"y":6.74},{"s":2,"x":2.5,"y":5.7},{"s":2,"x":2.8,"y":4.15},{"s":2,"x":3.05,"y":2.03},{"s":2,"x":3.3,"y":1.3},{"s":2,"x":3.6,"y":0.76},{"s":2,"x":3.9,"y":0.37},{"s":2,"x":4.15,"y":0.12},{"s":2,"x":4.4,"y":0},
{"s":3,"x":0,"y":9.6},{"s":3,"x":0.25,"y":9.2},{"s":3,"x":0.5,"y":8.9},{"s":3,"x":0.75,"y":8.8},{"s":3,"x":1.0,"y":8.9},{"s":3,"x":1.25,"y":9.0},{"s":3,"x":1.5,"y":8.85},{"s":3,"x":1.8,"y":7.77},{"s":3,"x":2.0,"y":7.36},{"s":3,"x":2.2,"y":6.68},{"s":3,"x":2.5,"y":5.64},{"s":3,"x":2.8,"y":4.09},{"s":3,"x":3.05,"y":2.01},{"s":3,"x":3.3,"y":1.28},{"s":3,"x":3.6,"y":0.74},{"s":3,"x":3.9,"y":0.35},{"s":3,"x":4.15,"y":0.12},{"s":3,"x":4.4,"y":0},
{"s":4,"x":0,"y":9.5},{"s":4,"x":0.25,"y":9.4},{"s":4,"x":0.5,"y":9.3},{"s":4,"x":0.75,"y":9.4},{"s":4,"x":1.0,"y":9.2},{"s":4,"x":1.25,"y":8.9},{"s":4,"x":1.5,"y":8.6},{"s":4,"x":1.8,"y":7.61},{"s":4,"x":2.0,"y":7.18},{"s":4,"x":2.2,"y":6.44},{"s":4,"x":2.5,"y":5.42},{"s":4,"x":2.8,"y":3.87},{"s":4,"x":3.05,"y":1.93},{"s":4,"x":3.3,"y":1.17},{"s":4,"x":3.6,"y":0.65},{"s":4,"x":3.9,"y":0.3},{"s":4,"x":4.15,"y":0.09},{"s":4,"x":4.4,"y":0},
{"s":5,"x":0,"y":9.4},{"s":5,"x":0.25,"y":9.1},{"s":5,"x":0.5,"y":8.8},{"s":5,"x":0.75,"y":8.5},{"s":5,"x":1.0,"y":8.7},{"s":5,"x":1.25,"y":8.9},{"s":5,"x":1.5,"y":8.8},{"s":5,"x":1.8,"y":7.69},{"s":5,"x":2.0,"y":7.27},{"s":5,"x":2.2,"y":6.56},{"s":5,"x":2.5,"y":5.53},{"s":5,"x":2.8,"y":3.98},{"s":5,"x":3.05,"y":1.97},{"s":5,"x":3.3,"y":1.23},{"s":5,"x":3.6,"y":0.7},{"s":5,"x":3.9,"y":0.33},{"s":5,"x":4.15,"y":0.1},{"s":5,"x":4.4,"y":0},
{"s":6,"x":0,"y":9.3},{"s":6,"x":0.25,"y":9.3},{"s":6,"x":0.5,"y":9.2},{"s":6,"x":0.75,"y":9.0},{"s":6,"x":1.0,"y":8.8},{"s":6,"x":1.25,"y":8.7},{"s":6,"x":1.5,"y":8.6},{"s":6,"x":1.8,"y":7.57},{"s":6,"x":2.0,"y":7.14},{"s":6,"x":2.2,"y":6.38},{"s":6,"x":2.5,"y":5.37},{"s":6,"x":2.8,"y":3.82},{"s":6,"x":3.05,"y":1.91},{"s":6,"x":3.3,"y":1.15},{"s":6,"x":3.6,"y":0.63},{"s":6,"x":3.9,"y":0.29},{"s":6,"x":4.15,"y":0.08},{"s":6,"x":4.4,"y":0},
{"s":7,"x":0,"y":9.2},{"s":7,"x":0.25,"y":9.0},{"s":7,"x":0.5,"y":8.7},{"s":7,"x":0.75,"y":8.6},{"s":7,"x":1.0,"y":8.7},{"s":7,"x":1.25,"y":8.6},{"s":7,"x":1.5,"y":8.5},{"s":7,"x":1.8,"y":7.49},{"s":7,"x":2.0,"y":7.05},{"s":7,"x":2.2,"y":6.26},{"s":7,"x":2.5,"y":5.26},{"s":7,"x":2.8,"y":3.71},{"s":7,"x":3.05,"y":1.87},{"s":7,"x":3.3,"y":1.1},{"s":7,"x":3.6,"y":0.59},{"s":7,"x":3.9,"y":0.26},{"s":7,"x":4.15,"y":0.07},{"s":7,"x":4.4,"y":0},
{"s":8,"x":0,"y":9.2},{"s":8,"x":0.25,"y":8.9},{"s":8,"x":0.5,"y":9.1},{"s":8,"x":0.75,"y":9.3},{"s":8,"x":1.0,"y":9.1},{"s":8,"x":1.25,"y":8.95},{"s":8,"x":1.5,"y":8.75},{"s":8,"x":1.8,"y":7.65},{"s":8,"x":2.0,"y":7.23},{"s":8,"x":2.2,"y":6.5},{"s":8,"x":2.5,"y":5.48},{"s":8,"x":2.8,"y":3.93},{"s":8,"x":3.05,"y":1.95},{"s":8,"x":3.3,"y":1.2},{"s":8,"x":3.6,"y":0.68},{"s":8,"x":3.9,"y":0.32},{"s":8,"x":4.15,"y":0.1},{"s":8,"x":4.4,"y":0},
{"s":9,"x":0,"y":9.0},{"s":9,"x":0.25,"y":9.2},{"s":9,"x":0.5,"y":9.0},{"s":9,"x":0.75,"y":8.85},{"s":9,"x":1.0,"y":8.6},{"s":9,"x":1.25,"y":8.7},{"s":9,"x":1.5,"y":8.7},{"s":9,"x":1.8,"y":7.59},{"s":9,"x":2.0,"y":7.16},{"s":9,"x":2.2,"y":6.41},{"s":9,"x":2.5,"y":5.39},{"s":9,"x":2.8,"y":3.84},{"s":9,"x":3.05,"y":1.92},{"s":9,"x":3.3,"y":1.16},{"s":9,"x":3.6,"y":0.64},{"s":9,"x":3.9,"y":0.3},{"s":9,"x":4.15,"y":0.08},{"s":9,"x":4.4,"y":0},
{"s":10,"x":0,"y":8.9},{"s":10,"x":0.25,"y":8.7},{"s":10,"x":0.5,"y":8.9},{"s":10,"x":0.75,"y":9.0},{"s":10,"x":1.0,"y":8.95},{"s":10,"x":1.25,"y":8.8},{"s":10,"x":1.5,"y":8.9},{"s":10,"x":1.8,"y":7.85},{"s":10,"x":2.0,"y":7.45},{"s":10,"x":2.2,"y":6.8},{"s":10,"x":2.5,"y":5.75},{"s":10,"x":2.8,"y":4.2},{"s":10,"x":3.05,"y":2.05},{"s":10,"x":3.3,"y":1.33},{"s":10,"x":3.6,"y":0.78},{"s":10,"x":3.9,"y":0.38},{"s":10,"x":4.15,"y":0.13},{"s":10,"x":4.4,"y":0},
{"s":11,"x":0,"y":8.7},{"s":11,"x":0.25,"y":8.8},{"s":11,"x":0.5,"y":8.6},{"s":11,"x":0.75,"y":8.3},{"s":11,"x":1.0,"y":8.5},{"s":11,"x":1.25,"y":8.8},{"s":11,"x":1.5,"y":8.7},{"s":11,"x":1.8,"y":7.53},{"s":11,"x":2.0,"y":7.09},{"s":11,"x":2.2,"y":6.32},{"s":11,"x":2.5,"y":5.31},{"s":11,"x":2.8,"y":3.76},{"s":11,"x":3.05,"y":1.89},{"s":11,"x":3.3,"y":1.12},{"s":11,"x":3.6,"y":0.61},{"s":11,"x":3.9,"y":0.28},{"s":11,"x":4.15,"y":0.07},{"s":11,"x":4.4,"y":0},
{"s":12,"x":0,"y":8.6},{"s":12,"x":0.25,"y":8.9},{"s":12,"x":0.5,"y":9.0},{"s":12,"x":0.75,"y":8.9},{"s":12,"x":1.0,"y":8.7},{"s":12,"x":1.25,"y":8.5},{"s":12,"x":1.5,"y":8.55},{"s":12,"x":1.8,"y":7.51},{"s":12,"x":2.0,"y":7.07},{"s":12,"x":2.2,"y":6.29},{"s":12,"x":2.5,"y":5.28},{"s":12,"x":2.8,"y":3.73},{"s":12,"x":3.05,"y":1.88},{"s":12,"x":3.3,"y":1.11},{"s":12,"x":3.6,"y":0.6},{"s":12,"x":3.9,"y":0.27},{"s":12,"x":4.15,"y":0.07},{"s":12,"x":4.4,"y":0},
{"s":13,"x":0,"y":8.5},{"s":13,"x":0.25,"y":8.6},{"s":13,"x":0.5,"y":8.4},{"s":13,"x":0.75,"y":8.6},{"s":13,"x":1.0,"y":8.8},{"s":13,"x":1.25,"y":8.7},{"s":13,"x":1.5,"y":8.6},{"s":13,"x":1.8,"y":7.45},{"s":13,"x":2.0,"y":7.0},{"s":13,"x":2.2,"y":6.2},{"s":13,"x":2.5,"y":5.2},{"s":13,"x":2.8,"y":3.65},{"s":13,"x":3.05,"y":1.85},{"s":13,"x":3.3,"y":1.07},{"s":13,"x":3.6,"y":0.57},{"s":13,"x":3.9,"y":0.25},{"s":13,"x":4.15,"y":0.06},{"s":13,"x":4.4,"y":0},
{"s":14,"x":0,"y":8.1},{"s":14,"x":0.25,"y":8.4},{"s":14,"x":0.5,"y":8.6},{"s":14,"x":0.75,"y":8.8},{"s":14,"x":1.0,"y":8.9},{"s":14,"x":1.25,"y":8.85},{"s":14,"x":1.5,"y":8.8},{"s":14,"x":1.8,"y":7.71},{"s":14,"x":2.0,"y":7.29},{"s":14,"x":2.2,"y":6.59},{"s":14,"x":2.5,"y":5.56},{"s":14,"x":2.8,"y":4.01},{"s":14,"x":3.05,"y":1.98},{"s":14,"x":3.3,"y":1.24},{"s":14,"x":3.6,"y":0.71},{"s":14,"x":3.9,"y":0.33},{"s":14,"x":4.15,"y":0.11},{"s":14,"x":4.4,"y":0}
],
"gr":[
{"x":0,"y":5.4},{"x":0.137,"y":5.33},{"x":0.41,"y":5.18},{"x":0.68,"y":5.03},{"x":0.96,"y":4.86},{"x":1.23,"y":4.61},{"x":1.5,"y":4.32},{"x":1.67,"y":4.1},{"x":1.83,"y":3.79},{"x":1.97,"y":3.47},{"x":2.16,"y":3.22},{"x":2.38,"y":2.84},{"x":2.6,"y":2.53},{"x":2.87,"y":2.25},{"x":3.09,"y":2.02},{"x":3.25,"y":1.77},{"x":3.42,"y":1.45},{"x":3.58,"y":1.07},{"x":3.75,"y":0.73},{"x":3.91,"y":0.44},{"x":4.08,"y":0.19},{"x":4.29,"y":0.04},{"x":4.51,"y":0},{"x":5.03,"y":0}
],
"h":[
{"x":0.083,"y":6.91},{"x":0.165,"y":7.6},{"x":0.248,"y":8.55},{"x":0.318,"y":8.85},{"x":0.377,"y":9.3},{"x":0.448,"y":9.99},{"x":0.519,"y":10.52},{"x":0.59,"y":10.94},{"x":0.66,"y":11.2},{"x":0.708,"y":11.7},{"x":0.767,"y":12.53},{"x":0.825,"y":13.86},{"x":0.884,"y":16.14},{"x":0.932,"y":18.42},{"x":0.967,"y":20.51},{"x":1.0,"y":21.65},{"x":1.05,"y":22.22},{"x":1.085,"y":21.84},{"x":1.132,"y":21.0},{"x":1.167,"y":21.38},{"x":1.208,"y":21.91},{"x":1.238,"y":21.65},{"x":1.278,"y":21.15},{"x":1.333,"y":21.65},{"x":1.38,"y":21.27},{"x":1.427,"y":20.51},{"x":1.474,"y":19.75},{"x":1.498,"y":19.64},{"x":1.533,"y":20.32},{"x":1.568,"y":22.22},{"x":1.616,"y":24.88},{"x":1.651,"y":26.59},{"x":1.686,"y":27.65},{"x":1.733,"y":28.1},{"x":1.769,"y":28.1},{"x":1.804,"y":28.6},{"x":1.833,"y":28.94},{"x":1.851,"y":28.75},{"x":1.88,"y":28.48},{"x":1.91,"y":29.05},{"x":1.958,"y":29.05},{"x":1.993,"y":28.75},{"x":2.028,"y":27.9},{"x":2.064,"y":26.0},{"x":2.1,"y":24.1},{"x":2.146,"y":21.84},{"x":2.217,"y":19.18},{"x":2.276,"y":16.52},{"x":2.335,"y":14.81},{"x":2.406,"y":13.48},{"x":2.476,"y":12.15},{"x":2.547,"y":11.01},{"x":2.618,"y":9.87},{"x":2.689,"y":8.36},{"x":2.748,"y":7.22},{"x":2.83,"y":6.27},{"x":2.889,"y":5.7},{"x":2.948,"y":4.56},{"x":3.0,"y":3.23}
]
},
"concat":[
{"width":422,"height":264,
 "layer":[
  {"data":{"name":"a"},"mark":{"type":"line","color":"#1a1a1a","strokeWidth":1.1,"interpolate":"monotone","clip":true},
   "encoding":{
    "x":{"field":"x","type":"quantitative","scale":{"domain":[-2,4],"nice":false,"zero":false},"axis":{"orient":"bottom","title":"Ln(r)","values":[-2,-1,0,1,2,3,4],"labelExpr":"datum.value % 2 === 0 ? '' + datum.value : ''","tickSize":13}},
    "y":{"field":"y","type":"quantitative","scale":{"domain":[0,12],"nice":false,"zero":false},"axis":{"orient":"left","title":"Slopes","values":[0,1,2,3,4,5,6,7,8,9,10,11,12],"labelExpr":"datum.value % 2 === 0 ? '' + datum.value : ''","tickSize":{"condition":{"test":"datum.value % 2 === 0","value":13},"value":-7}}},
    "detail":{"field":"s","type":"nominal"}}},
  {"data":{"values":[{}]},"mark":{"type":"text","align":"left","baseline":"alphabetic","fontSize":12,"fontWeight":"bold","lineHeight":16},
   "encoding":{
    "x":{"datum":1.63,"type":"quantitative","scale":{"domain":[-2,4],"nice":false,"zero":false},"axis":{"orient":"top","title":null,"labels":false,"values":[-2,-1,0,1,2,3,4],"tickSize":-7}},
    "y":{"datum":10.33,"type":"quantitative","scale":{"domain":[0,12],"nice":false,"zero":false},"axis":{"orient":"right","title":null,"labels":false,"values":[0,1,2,3,4,5,6,7,8,9,10,11,12],"tickSize":{"condition":{"test":"datum.value % 2 === 0","value":-13},"value":-6}}},
    "text":{"value":["Solar Flares","Svd V₁ Component","τ=500, W=100"]}}},
  {"data":{"values":[{}]},"mark":{"type":"text","align":"right","baseline":"alphabetic","fontSize":16},
   "encoding":{"x":{"datum":3.97,"type":"quantitative","scale":{"domain":[-2,4],"nice":false,"zero":false},"axis":null},"y":{"datum":11.0,"type":"quantitative","scale":{"domain":[0,12],"nice":false,"zero":false},"axis":null},"text":{"value":"(a)"}}}
 ],
 "resolve":{"axis":{"x":"independent","y":"independent"}}},
{"width":421,"height":262,
 "layer":[
  {"data":{"name":"b"},"mark":{"type":"line","color":"#1a1a1a","strokeWidth":1.1,"interpolate":"monotone","clip":true},
   "encoding":{
    "x":{"field":"x","type":"quantitative","scale":{"domain":[-2,4],"nice":false,"zero":false},"axis":{"orient":"bottom","title":"Ln(r)","values":[-2,-1,0,1,2,3,4],"labelExpr":"datum.value % 2 === 0 ? '' + datum.value : ''","tickSize":13}},
    "y":{"field":"y","type":"quantitative","scale":{"domain":[0,12],"nice":false,"zero":false},"axis":{"orient":"left","title":"Slopes","values":[0,2,4,6,8,10,12],"labelExpr":"datum.value % 4 === 0 ? '' + datum.value : ''","tickSize":{"condition":{"test":"datum.value % 4 === 0","value":13},"value":7}}},
    "detail":{"field":"s","type":"nominal"}}},
  {"data":{"values":[{}]},"mark":{"type":"text","align":"left","baseline":"alphabetic","fontSize":12,"fontWeight":"bold","lineHeight":16},
   "encoding":{
    "x":{"datum":0.89,"type":"quantitative","scale":{"domain":[-2,4],"nice":false,"zero":false},"axis":{"orient":"top","title":null,"labels":false,"values":[-2,-1,0,1,2,3,4],"tickSize":-7}},
    "y":{"datum":10.0,"type":"quantitative","scale":{"domain":[0,12],"nice":false,"zero":false},"axis":{"orient":"right","title":null,"labels":false,"values":[0,2,4,6,8,10,12],"tickSize":-8}},
    "text":{"value":["Surrogates Data from","Solar Flares TMS","SVD, V₂₋₁₅ Component","m=6-10, τ=500, w=100"]}}},
  {"data":{"values":[{}]},"mark":{"type":"text","align":"right","baseline":"alphabetic","fontSize":16},
   "encoding":{"x":{"datum":3.94,"type":"quantitative","scale":{"domain":[-2,4],"nice":false,"zero":false},"axis":null},"y":{"datum":10.5,"type":"quantitative","scale":{"domain":[0,12],"nice":false,"zero":false},"axis":null},"text":{"value":"(b)"}}}
 ],
 "resolve":{"axis":{"x":"independent","y":"independent"}}},
{"width":421,"height":260,
 "layer":[
  {"data":{"name":"cb"},"mark":{"type":"line","color":"#1a1a1a","strokeWidth":1.0,"interpolate":"monotone","clip":true},
   "encoding":{
    "x":{"field":"x","type":"quantitative","scale":{"domain":[-1,6],"nice":false,"zero":false},"axis":{"orient":"bottom","title":"Ln(r)","values":[-1,0,1,2,3,4,5,6],"labelExpr":"datum.value % 2 === 0 ? '' + datum.value : ''","tickSize":{"condition":{"test":"datum.value % 2 === 0","value":13},"value":7}}},
    "y":{"field":"y","type":"quantitative","scale":{"domain":[0,12],"nice":false,"zero":false},"axis":{"orient":"left","title":"Slopes","values":[0,2,4,6,8,10,12],"labelExpr":"datum.value % 4 === 0 ? '' + datum.value : ''","tickSize":{"condition":{"test":"datum.value % 4 === 0","value":13},"value":7}}},
    "detail":{"field":"s","type":"nominal"}}},
  {"data":{"name":"cr"},"mark":{"type":"line","color":"#ee1111","strokeWidth":2.5,"interpolate":"monotone","clip":true},
   "encoding":{
    "x":{"field":"x","type":"quantitative","scale":{"domain":[-1,6],"nice":false,"zero":false},"axis":null},
    "y":{"field":"y","type":"quantitative","scale":{"domain":[0,12],"nice":false,"zero":false},"axis":null}}},
  {"data":{"values":[{}]},"mark":{"type":"text","align":"left","baseline":"alphabetic","fontSize":12,"fontWeight":"bold","lineHeight":16},
   "encoding":{
    "x":{"datum":1.86,"type":"quantitative","scale":{"domain":[-1,6],"nice":false,"zero":false},"axis":{"orient":"top","title":null,"labels":false,"values":[-1,0,1,2,3,4,5,6],"tickSize":-7}},
    "y":{"datum":10.23,"type":"quantitative","scale":{"domain":[0,12],"nice":false,"zero":false},"axis":{"orient":"right","title":null,"labels":false,"values":[0,2,4,6,8,10,12],"tickSize":-8}},
    "text":{"value":["Surrogates Data vs","Solar Flares TMS","SVD, V₂₋₁₅ Component","m=10, τ=50, w=200"]}}},
  {"data":{"values":[{}]},"mark":{"type":"text","align":"right","baseline":"alphabetic","fontSize":16},
   "encoding":{"x":{"datum":5.96,"type":"quantitative","scale":{"domain":[-1,6],"nice":false,"zero":false},"axis":null},"y":{"datum":10.9,"type":"quantitative","scale":{"domain":[0,12],"nice":false,"zero":false},"axis":null},"text":{"value":"(c)"}}}
 ],
 "resolve":{"axis":{"x":"independent","y":"independent"}}},
{"width":418,"height":261,
 "layer":[
  {"data":{"name":"d"},"mark":{"type":"line","color":"#1a1a1a","strokeWidth":1.1,"interpolate":"monotone","clip":true},
   "encoding":{
    "x":{"field":"x","type":"quantitative","scale":{"domain":[-0.5,3.35],"nice":false,"zero":false},"axis":{"orient":"bottom","title":"Ln(r)","values":[-0.5,0,0.5,1,1.5,2,2.5,3],"labelExpr":"datum.value % 1 === 0 ? '' + datum.value : ''","tickSize":{"condition":{"test":"datum.value % 1 === 0","value":13},"value":7}}},
    "y":{"field":"y","type":"quantitative","scale":{"domain":[0,10],"nice":false,"zero":false},"axis":{"orient":"left","title":"Significance","titleFontSize":10,"values":[0,1,2,3,4,5,6,7,8,9,10],"labelExpr":"datum.value % 10 === 0 ? '' + datum.value : ''","tickSize":{"condition":{"test":"datum.value % 10 === 0","value":13},"value":7}}}}},
  {"data":{"values":[{}]},"mark":{"type":"rule","color":"#000","strokeWidth":1,"strokeDash":[7,5]},
   "encoding":{"y":{"datum":2,"type":"quantitative","scale":{"domain":[0,10],"nice":false,"zero":false},"axis":null}}},
  {"data":{"values":[{}]},"mark":{"type":"text","align":"right","baseline":"alphabetic","fontSize":16},
   "encoding":{
    "x":{"datum":3.3,"type":"quantitative","scale":{"domain":[-0.5,3.35],"nice":false,"zero":false},"axis":{"orient":"top","title":null,"labels":false,"values":[-0.5,-0.25,0,0.25,0.5,0.75,1,1.25,1.5,1.75,2,2.25,2.5,2.75,3,3.25],"tickSize":{"condition":{"test":"datum.value % 1 === 0","value":-13},"value":-6}}},
    "y":{"datum":8.77,"type":"quantitative","scale":{"domain":[0,10],"nice":false,"zero":false},"axis":{"orient":"right","title":null,"labels":false,"values":[0,1,2,3,4,5,6,7,8,9,10],"tickSize":-9}},
    "text":{"value":"(d)"}}}
 ],
 "resolve":{"axis":{"x":"independent","y":"independent"}}},
{"width":415,"height":261,
 "layer":[
  {"data":{"name":"e"},"mark":{"type":"line","color":"#1a1a1a","strokeWidth":1.1,"interpolate":"monotone","clip":true},
   "encoding":{
    "x":{"field":"x","type":"quantitative","scale":{"domain":[-1,6],"nice":false,"zero":false},"axis":{"orient":"bottom","title":"Ln(r)","values":[-1,-0.5,0,0.5,1,1.5,2,2.5,3,3.5,4,4.5,5,5.5,6],"labelExpr":"datum.value % 1 === 0 ? '' + datum.value : ''","tickSize":{"condition":{"test":"datum.value % 1 === 0","value":13},"value":7}}},
    "y":{"field":"y","type":"quantitative","scale":{"domain":[0,10],"nice":false,"zero":false},"axis":{"orient":"left","title":"Slopes","values":[0,0.5,1,1.5,2,2.5,3,3.5,4,4.5,5,5.5,6,6.5,7,7.5,8,8.5,9,9.5,10],"labelExpr":"datum.value % 2 === 0 ? '' + datum.value : ''","tickSize":{"condition":{"test":"datum.value % 2 === 0","value":13},"value":-6}}},
    "detail":{"field":"s","type":"nominal"}}},
  {"data":{"values":[{}]},"mark":{"type":"rule","color":"#000","strokeWidth":1,"strokeDash":[7,5]},
   "encoding":{"y":{"datum":5.5,"type":"quantitative","scale":{"domain":[0,10],"nice":false,"zero":false},"axis":null}}},
  {"data":{"values":[{}]},"mark":{"type":"text","align":"left","baseline":"alphabetic","fontSize":12,"fontWeight":"bold","lineHeight":16},
   "encoding":{
    "x":{"datum":2.33,"type":"quantitative","scale":{"domain":[-1,6],"nice":false,"zero":false},"axis":{"orient":"top","title":null,"labels":false,"values":[-1,-0.5,0,0.5,1,1.5,2,2.5,3,3.5,4,4.5,5,5.5,6],"tickSize":{"condition":{"test":"datum.value % 1 === 0","value":-13},"value":-5}}},
    "y":{"datum":8.69,"type":"quantitative","scale":{"domain":[0,10],"nice":false,"zero":false},"axis":{"orient":"right","title":null,"labels":false,"values":[0,0.5,1,1.5,2,2.5,3,3.5,4,4.5,5,5.5,6,6.5,7,7.5,8,8.5,9,9.5,10],"tickSize":{"condition":{"test":"datum.value % 2 === 0","value":-13},"value":-6}}},
    "text":{"value":["Solar Flares TMS","SVD V₂₋₁₅ Component","T=50, m=6-10,w=200"]}}},
  {"data":{"values":[{}]},"mark":{"type":"text","align":"right","baseline":"alphabetic","fontSize":16},
   "encoding":{"x":{"datum":5.83,"type":"quantitative","scale":{"domain":[-1,6],"nice":false,"zero":false},"axis":null},"y":{"datum":8.94,"type":"quantitative","scale":{"domain":[0,10],"nice":false,"zero":false},"axis":null},"text":{"value":"(e)"}}}
 ],
 "resolve":{"axis":{"x":"independent","y":"independent"}}},
{"width":421,"height":261,
 "layer":[
  {"data":{"name":"f"},"mark":{"type":"line","color":"#1a1a1a","strokeWidth":1.1,"interpolate":"monotone","clip":true},
   "encoding":{
    "x":{"field":"x","type":"quantitative","scale":{"domain":[-1,6],"nice":false,"zero":false},"axis":{"orient":"bottom","title":"Ln(r)","values":[-1,0,1,2,3,4,5,6],"labelExpr":"datum.value % 2 === 0 ? '' + datum.value : ''","tickSize":{"condition":{"test":"datum.value % 2 === 0","value":13},"value":7}}},
    "y":{"field":"y","type":"quantitative","scale":{"domain":[0,10],"nice":false,"zero":false},"axis":{"orient":"left","title":"Slopes","values":[0,1,2,3,4,5,6,7,8,9,10],"labelExpr":"datum.value % 2 === 0 ? '' + datum.value : ''","tickSize":{"condition":{"test":"datum.value % 2 === 0","value":13},"value":7}}},
    "detail":{"field":"s","type":"nominal"}}},
  {"data":{"values":[{}]},"mark":{"type":"rule","color":"#000","strokeWidth":1,"strokeDash":[7,5]},
   "encoding":{"y":{"datum":5.55,"type":"quantitative","scale":{"domain":[0,10],"nice":false,"zero":false},"axis":null}}},
  {"data":{"values":[{}]},"mark":{"type":"text","align":"left","baseline":"alphabetic","fontSize":12,"fontWeight":"bold","lineHeight":16},
   "encoding":{
    "x":{"datum":2.85,"type":"quantitative","scale":{"domain":[-1,6],"nice":false,"zero":false},"axis":{"orient":"top","title":null,"labels":false,"values":[-1,0,1,2,3,4,5,6],"tickSize":{"condition":{"test":"datum.value % 2 === 0","value":-13},"value":-7}}},
    "y":{"datum":8.88,"type":"quantitative","scale":{"domain":[0,10],"nice":false,"zero":false},"axis":{"orient":"right","title":null,"labels":false,"values":[0,1,2,3,4,5,6,7,8,9,10],"tickSize":{"condition":{"test":"datum.value % 2 === 0","value":-13},"value":-6}}},
    "text":{"value":["Surrogates Data from","Solar Flares TMS","SVD, V₂₋₁₅ Component","m=6-10, τ=50, w=200"]}}},
  {"data":{"values":[{}]},"mark":{"type":"text","align":"right","baseline":"alphabetic","fontSize":16},
   "encoding":{"x":{"datum":5.87,"type":"quantitative","scale":{"domain":[-1,6],"nice":false,"zero":false},"axis":null},"y":{"datum":9.18,"type":"quantitative","scale":{"domain":[0,10],"nice":false,"zero":false},"axis":null},"text":{"value":"(f)"}}}
 ],
 "resolve":{"axis":{"x":"independent","y":"independent"}}},
{"width":427,"height":264,
 "layer":[
  {"data":{"name":"gb"},"mark":{"type":"line","color":"#1a1a1a","strokeWidth":1.0,"interpolate":"monotone","clip":true},
   "encoding":{
    "x":{"field":"x","type":"quantitative","scale":{"domain":[-1,6],"nice":false,"zero":false},"axis":{"orient":"bottom","title":"Ln(r)","titleFontStyle":"italic","labelFontStyle":"italic","values":[-1,0,1,2,3,4,5,6],"labelExpr":"datum.value % 2 === 0 ? '' + datum.value : ''","tickSize":{"condition":{"test":"datum.value % 2 === 0","value":13},"value":7}}},
    "y":{"field":"y","type":"quantitative","scale":{"domain":[0,10],"nice":false,"zero":false},"axis":{"orient":"left","title":"Slopes","titleFontStyle":"italic","labelFontStyle":"italic","values":[0,1,2,3,4,5,6,7,8,9,10],"labelExpr":"datum.value % 2 === 0 ? '' + datum.value : ''","tickSize":{"condition":{"test":"datum.value % 2 === 0","value":13},"value":7}}},
    "detail":{"field":"s","type":"nominal"}}},
  {"data":{"name":"gr"},"mark":{"type":"line","color":"#ee1111","strokeWidth":2.2,"interpolate":"monotone","clip":true},
   "encoding":{
    "x":{"field":"x","type":"quantitative","scale":{"domain":[-1,6],"nice":false,"zero":false},"axis":null},
    "y":{"field":"y","type":"quantitative","scale":{"domain":[0,10],"nice":false,"zero":false},"axis":null}}},
  {"data":{"values":[{}]},"mark":{"type":"rule","color":"#000","strokeWidth":1,"strokeDash":[7,5]},
   "encoding":{"y":{"datum":5.55,"type":"quantitative","scale":{"domain":[0,10],"nice":false,"zero":false},"axis":null}}},
  {"data":{"values":[{}]},"mark":{"type":"text","align":"left","baseline":"alphabetic","fontSize":12,"fontWeight":"bold","fontStyle":"italic","lineHeight":16},
   "encoding":{
    "x":{"datum":2.86,"type":"quantitative","scale":{"domain":[-1,6],"nice":false,"zero":false},"axis":{"orient":"top","title":null,"labels":false,"values":[-1,0,1,2,3,4,5,6],"tickSize":{"condition":{"test":"datum.value % 2 === 0","value":-13},"value":-7}}},
    "y":{"datum":8.86,"type":"quantitative","scale":{"domain":[0,10],"nice":false,"zero":false},"axis":{"orient":"right","title":null,"labels":false,"values":[0,1,2,3,4,5,6,7,8,9,10],"tickSize":{"condition":{"test":"datum.value % 2 === 0","value":-13},"value":-6}}},
    "text":{"value":["Surrogates Data vs.","Solar Flares TMS","SVD, V₂₋₁₅ Component","m=10, τ=50, w=200"]}}},
  {"data":{"values":[{}]},"mark":{"type":"text","align":"right","baseline":"alphabetic","fontSize":16,"fontStyle":"italic"},
   "encoding":{"x":{"datum":5.95,"type":"quantitative","scale":{"domain":[-1,6],"nice":false,"zero":false},"axis":null},"y":{"datum":9.29,"type":"quantitative","scale":{"domain":[0,10],"nice":false,"zero":false},"axis":null},"text":{"value":"(g)"}}}
 ],
 "resolve":{"axis":{"x":"independent","y":"independent"}}},
{"width":421,"height":264,
 "layer":[
  {"data":{"name":"h"},"mark":{"type":"line","color":"#1a1a1a","strokeWidth":1.1,"interpolate":"monotone","clip":true},
   "encoding":{
    "x":{"field":"x","type":"quantitative","scale":{"domain":[0,3],"nice":false,"zero":false},"axis":{"orient":"bottom","title":"Ln(r)","titleFontStyle":"italic","labelFontStyle":"italic","values":[0,0.5,1,1.5,2,2.5,3],"labelExpr":"datum.value % 1 === 0 ? '' + datum.value : ''","tickSize":{"condition":{"test":"datum.value % 1 === 0","value":13},"value":7}}},
    "y":{"field":"y","type":"quantitative","scale":{"domain":[0,30],"nice":false,"zero":false},"axis":{"orient":"left","title":"Significance","titleFontStyle":"italic","labelFontStyle":"italic","values":[0,1,2,3,4,5,6,7,8,9,10,11,12,13,14,15,16,17,18,19,20,21,22,23,24,25,26,27,28,29,30],"labelExpr":"datum.value % 10 === 0 ? '' + datum.value : ''","tickSize":{"condition":{"test":"datum.value % 10 === 0","value":13},"value":6}}}}},
  {"data":{"values":[{}]},"mark":{"type":"rule","color":"#000","strokeWidth":1,"strokeDash":[7,5]},
   "encoding":{"y":{"datum":2,"type":"quantitative","scale":{"domain":[0,30],"nice":false,"zero":false},"axis":null}}},
  {"data":{"values":[{}]},"mark":{"type":"text","align":"right","baseline":"alphabetic","fontSize":16,"fontStyle":"italic"},
   "encoding":{
    "x":{"datum":2.93,"type":"quantitative","scale":{"domain":[0,3],"nice":false,"zero":false},"axis":{"orient":"top","title":null,"labels":false,"values":[0,0.2,0.4,0.6,0.8,1,1.2,1.4,1.6,1.8,2,2.2,2.4,2.6,2.8,3],"tickSize":{"condition":{"test":"datum.value % 0.4 < 0.01","value":-13},"value":-6}}},
    "y":{"datum":26.2,"type":"quantitative","scale":{"domain":[0,30],"nice":false,"zero":false},"axis":{"orient":"right","title":null,"labels":false,"values":[0,3,6,9,12,15,18,21,24,27,30],"tickSize":{"condition":{"test":"datum.value % 6 === 0","value":-13},"value":-6}}},
    "text":{"value":"(h)"}}}
 ],
 "resolve":{"axis":{"x":"independent","y":"independent"}}}
]
}
